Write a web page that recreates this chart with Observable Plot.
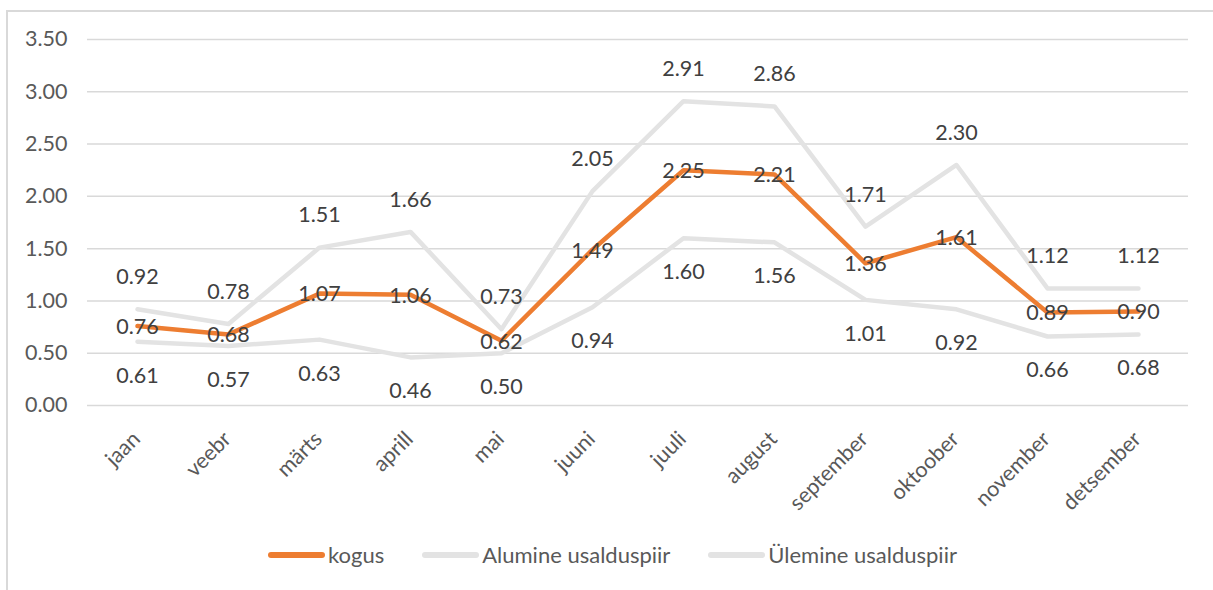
<!DOCTYPE html>
<html>
<head>
<meta charset="utf-8">
<script src="https://cdn.jsdelivr.net/npm/d3@7"></script>
<script src="https://cdn.jsdelivr.net/npm/@observablehq/plot@0.6"></script>
<style>
  html, body { margin: 0; padding: 0; background: #fff; width: 1213px; height: 590px; overflow: hidden; }
  #frame { position: absolute; left: 6px; top: 10px; width: 1220px; height: 600px; border: 2px solid #d9d9d9; box-sizing: border-box; }
  #chart { position: absolute; left: 0; top: 0; }
  #legend { position: absolute; top: 541px; left: 268px; display: flex; gap: 38px;
    font-family: Lato, "Open Sans", sans-serif; font-size: 22px; color: #595959; }
  .item { display: flex; align-items: center; }
  .sw { width: 57px; height: 6px; border-radius: 3px; margin-right: 3px; }
</style>
</head>
<body>
<div id="frame"></div>
<div id="chart"></div>
<div id="legend"></div>
<script>
const months = ["jaan","veebr","märts","aprill","mai","juuni","juuli","august","september","oktoober","november","detsember"];
const kogus = [0.76, 0.68, 1.07, 1.06, 0.62, 1.49, 2.25, 2.21, 1.36, 1.61, 0.89, 0.90];
const alumine = [0.61, 0.57, 0.63, 0.46, 0.50, 0.94, 1.60, 1.56, 1.01, 0.92, 0.66, 0.68];
const ulemine = [0.92, 0.78, 1.51, 1.66, 0.73, 2.05, 2.91, 2.86, 1.71, 2.30, 1.12, 1.12];
const yTicks = [0, 0.5, 1, 1.5, 2, 2.5, 3, 3.5];
const seriesNames = ["kogus", "Alumine usalduspiir", "Ülemine usalduspiir"];
const seriesColors = ["#ED7D31", "#e3e3e3", "#e3e3e3"];

const rows = (vals) => months.map((m, i) => ({month: m, value: vals[i]}));
const K = rows(kogus), A = rows(alumine), U = rows(ulemine);
const fmt = d => d.toFixed(2);

const chart = Plot.plot({
  width: 1213,
  height: 520,
  marginLeft: 87,
  marginRight: 25,
  marginTop: 39,
  marginBottom: 115,
  style: {fontFamily: "Lato, 'Open Sans', sans-serif", fontSize: "21.5px", color: "#595959", background: "transparent"},
  x: {type: "point", domain: months, padding: 0.5, label: null},
  y: {domain: [0, 3.5], label: null},
  marks: [
    Plot.gridY(yTicks, {stroke: "#d9d9d9", strokeOpacity: 1, strokeWidth: 1.5}),
    Plot.axisY(yTicks, {tickSize: 0, tickPadding: 20, tickFormat: fmt, fill: "#595959", label: null}),
    Plot.axisX({tickSize: 0, tickRotate: -45, tickPadding: 30, dx: -1, fill: "#595959", label: null}),
    Plot.line(A, {x: "month", y: "value", stroke: seriesColors[1], strokeWidth: 4.5, strokeLinejoin: "round", strokeLinecap: "round"}),
    Plot.line(U, {x: "month", y: "value", stroke: seriesColors[2], strokeWidth: 4.5, strokeLinejoin: "round", strokeLinecap: "round"}),
    Plot.line(K, {x: "month", y: "value", stroke: seriesColors[0], strokeWidth: 4.5, strokeLinejoin: "round", strokeLinecap: "round"}),
    Plot.text(U, {x: "month", y: "value", text: d => fmt(d.value), dy: -32, fill: "#404040"}),
    Plot.text(A, {x: "month", y: "value", text: d => fmt(d.value), dy: 34, fill: "#404040"}),
    Plot.text(K, {x: "month", y: "value", text: d => fmt(d.value), dy: 1, fill: "#404040"})
  ]
});
document.getElementById("chart").appendChild(chart);

const legend = document.getElementById("legend");
seriesNames.forEach((n, i) => {
  const it = document.createElement("div");
  it.className = "item";
  const sw = document.createElement("div");
  sw.className = "sw";
  sw.style.background = seriesColors[i];
  const t = document.createElement("span");
  t.textContent = n;
  it.appendChild(sw); it.appendChild(t);
  legend.appendChild(it);
});
</script>
</body>
</html>
